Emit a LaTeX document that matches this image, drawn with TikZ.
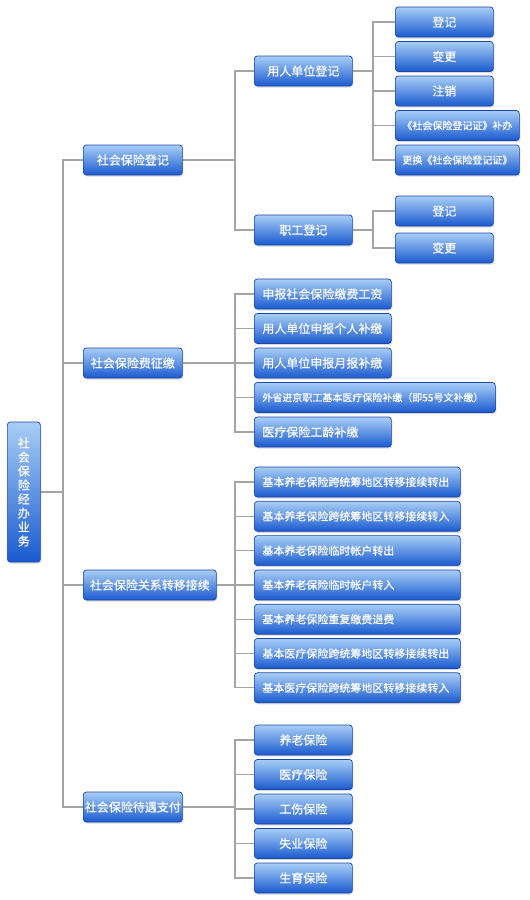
\documentclass[tikz,border=0pt]{standalone}
\usepackage{fontspec}
\newfontfamily\cjk{Noto Sans CJK SC}[FakeBold=0.5]
\usetikzlibrary{shadows, positioning, calc}
\definecolor{boxtop}{HTML}{A8CEF6}
\definecolor{boxbot}{HTML}{1A5AD0}
\definecolor{boxline}{HTML}{1D47A6}
\definecolor{linegray}{HTML}{A4A4A4}

\begin{document}
\begin{tikzpicture}[x=1pt, y=-1pt,
  box/.style={rectangle, rounded corners=3pt, draw=boxline, line width=0.7pt,
    top color=boxtop, bottom color=boxbot,
    drop shadow={shadow xshift=1pt, shadow yshift=-1.5pt, opacity=0.3},
    text=white, font=\cjk\fontsize{12}{14}\selectfont,
    minimum height=30pt, inner sep=0pt, anchor=west},
  cbox/.style={box, minimum width=#1},
  lbox/.style={box, align=left, text width=#1, inner xsep=8pt},
  small/.style={font=\cjk\fontsize{11}{13}\selectfont},
  tiny/.style={font=\cjk\fontsize{10}{12}\selectfont},
  link/.style={draw=linegray, line width=1.2pt}]
  \useasboundingbox (0,0) rectangle (530,900);

  \node[box, minimum width=33pt, minimum height=140pt, align=center, text width=13pt] (root) at (7,492)
    {社\\会\\保\\险\\经\\办\\业\\务};

  \node[cbox=99pt] (reg) at (83,160) {社会保险登记};
  \node[cbox=99pt] (fee) at (83,363) {社会保险费征缴};
  \node[cbox=133pt] (trans) at (83,585) {社会保险关系转移接续};
  \node[cbox=99pt] (pay) at (83,807) {社会保险待遇支付};

  % 社会保险登记
  \node[cbox=98pt] (emp) at (254,71) {用人单位登记};
  \node[cbox=98pt] (staff) at (254,230) {职工登记};
  \foreach \t [count=\i] in {登记, 变更, 注销}
    \node[cbox=98pt] (e\i) at (395,{22+34.5*(\i-1)}) {\t};
  \node[cbox=124pt, tiny] (e4) at (395,125.5) {《社会保险登记证》补办};
  \node[cbox=124pt, tiny] (e5) at (395,160) {更换《社会保险登记证》};
  \node[cbox=98pt] (s1) at (395,211) {登记};
  \node[cbox=98pt] (s2) at (395,248) {变更};

  % 社会保险费征缴
  \foreach \t [count=\i] in {申报社会保险缴费工资, 用人单位申报个人补缴, 用人单位申报月报补缴}
    \node[lbox=121pt] (f\i) at (254,{294+34.5*(\i-1)}) {\t};
  \node[lbox=225pt, tiny] (f4) at (254,397.5) {外省进京职工基本医疗保险补缴（即55号文补缴）};
  \node[lbox=121pt] (f5) at (254,432) {医疗保险工龄补缴};

  % 社会保险关系转移接续
  \foreach \t [count=\i] in {基本养老保险跨统筹地区转移接续转出, 基本养老保险跨统筹地区转移接续转入,
      基本养老保险临时帐户转出, 基本养老保险临时帐户转入, 基本养老保险重复缴费退费,
      基本医疗保险跨统筹地区转移接续转出, 基本医疗保险跨统筹地区转移接续转入}
    \node[lbox=190pt, small] (r\i) at (254,{482+34.3*(\i-1)}) {\t};

  % 社会保险待遇支付
  \foreach \t [count=\i] in {养老保险, 医疗保险, 工伤保险, 失业保险, 生育保险}
    \node[cbox=98pt] (p\i) at (254,{740+34.5*(\i-1)}) {\t};

  \coordinate (spine) at (63,492);
  \coordinate (regj) at (235,160);
  \coordinate (feej) at (235,363);
  \coordinate (transj) at (235,585);
  \coordinate (payj) at (235,807);
  \coordinate (empj) at (373,71);
  \coordinate (staffj) at (373,230);

  \draw[link] (root.east) -- (spine);
  \foreach \n in {reg, fee, trans, pay}
    \draw[link] (spine) |- (\n.west);
  \draw[link] (reg.east) -- (regj);
  \draw[link] (fee.east) -- (feej);
  \draw[link] (trans.east) -- (transj);
  \draw[link] (pay.east) -- (payj);
  \foreach \n in {emp, staff}
    \draw[link] (regj) |- (\n.west);
  \draw[link] (emp.east) -- (empj);
  \draw[link] (staff.east) -- (staffj);
  \foreach \i in {1,...,5}
    \draw[link] (empj) |- (e\i.west);
  \foreach \i in {1,2}
    \draw[link] (staffj) |- (s\i.west);
  \foreach \i in {1,...,5}
    \draw[link] (feej) |- (f\i.west);
  \foreach \i in {1,...,7}
    \draw[link] (transj) |- (r\i.west);
  \foreach \i in {1,...,5}
    \draw[link] (payj) |- (p\i.west);
\end{tikzpicture}
\end{document}
